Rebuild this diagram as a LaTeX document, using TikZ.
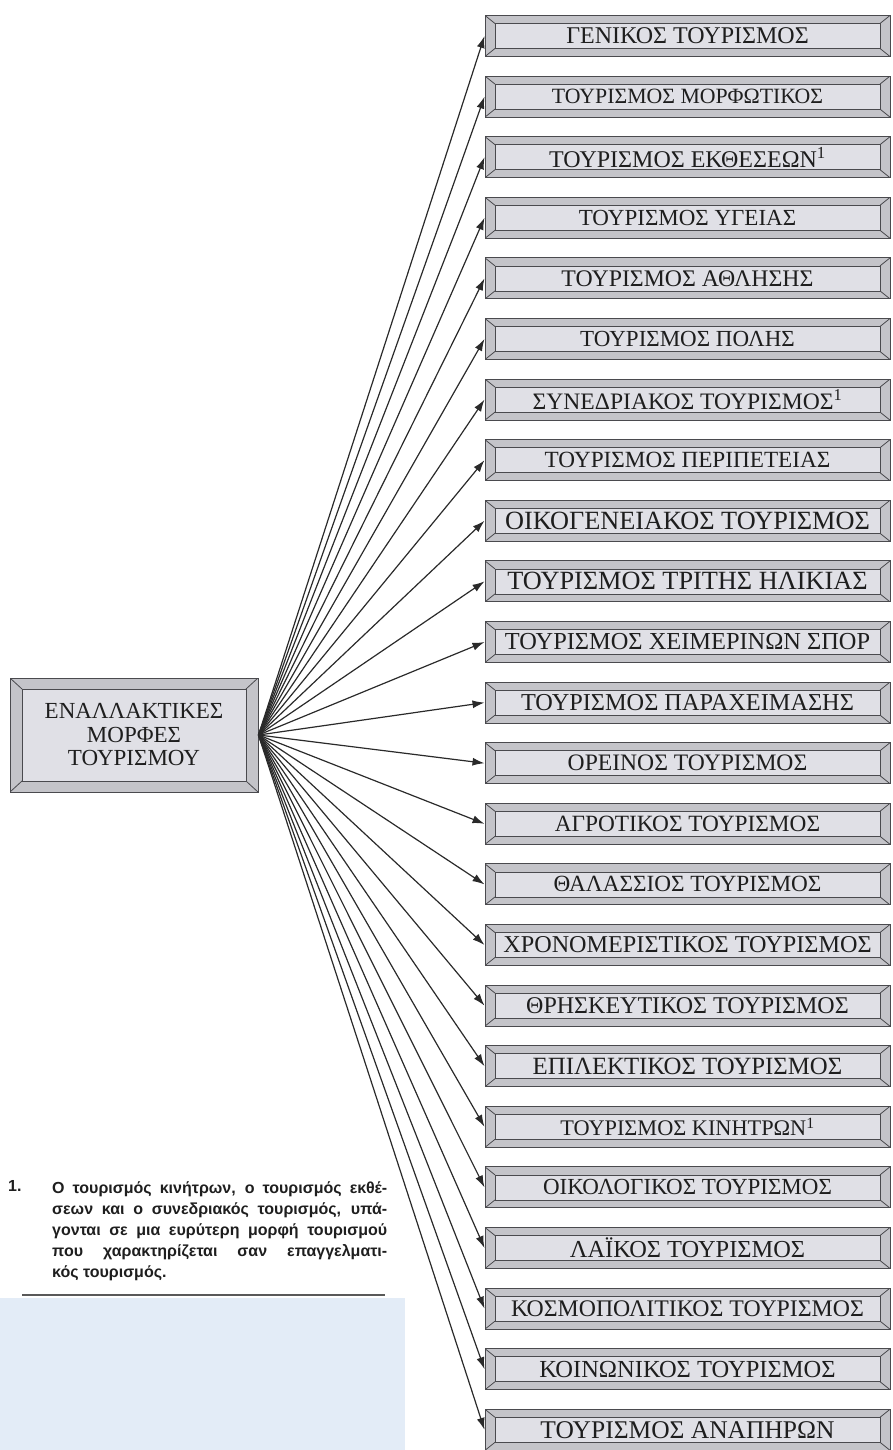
\documentclass[tikz,border=0pt]{standalone}
\usepackage{fontspec}
\setmainfont{Liberation Serif}
\newfontfamily\notefont{Liberation Sans}
\usetikzlibrary{arrows.meta,calc}
\definecolor{edge}{HTML}{4A4A4E}
\definecolor{bandgray}{HTML}{C4C4C9}
\definecolor{innergray}{HTML}{E0E0E6}
\definecolor{inkc}{HTML}{1E1E1E}
\definecolor{paleblue}{HTML}{E3ECF7}
\definecolor{linec}{HTML}{2A2A2A}
\tikzset{
  bevel/.style 2 args={rectangle, draw=edge, line width=1pt, fill=bandgray,
    inner sep=0pt, text=inkc,
    path picture={
      \path (path picture bounding box.south west) coordinate (@sw)
            (path picture bounding box.north east) coordinate (@ne)
            (path picture bounding box.north west) coordinate (@nw)
            (path picture bounding box.south east) coordinate (@se);
      \draw[edge, line width=0.8pt, fill=innergray]
        ($(@sw)+(#1pt,#2pt)$) rectangle ($(@ne)+(-#1pt,-#2pt)$);
      \draw[edge, line width=0.8pt]
        (@sw) -- ($(@sw)+(#1pt,#2pt)$)
        (@ne) -- ($(@ne)+(-#1pt,-#2pt)$)
        (@nw) -- ($(@nw)+(#1pt,-#2pt)$)
        (@se) -- ($(@se)+(-#1pt,#2pt)$);
    }},
  rbox/.style={bevel={10}{8}, minimum width=405pt, minimum height=41pt},
  cbox/.style={bevel={12}{11}, minimum width=248pt, minimum height=114pt,
    align=center, font=\fontsize{23}{23.5}\selectfont},
  fan/.style={draw=linec, line width=1.2pt, -{Latex[length=12pt,width=8pt]}},
  notetext/.style={inner sep=0pt, anchor=north west, align=left, text=inkc,
    font=\notefont\bfseries\fontsize{16}{21}\selectfont},
}
\newcommand\tbox[3]{\node[rbox] (b#1) at (687.5,{36+60.6*(#1-1)}) {\fontsize{#2}{#2}\selectfont #3};}
\begin{document}
\begin{tikzpicture}[x=1pt,y=-1pt]
\useasboundingbox (0,0) rectangle (893,1450);
% lower-left pale block and rule
\fill[paleblue] (0,1298) rectangle (405,1450);
\draw[gray!70!black, line width=1.6pt] (22,1295) -- (385,1295);
% centre box
\node[cbox] (c) at (134,735) {ΕΝΑΛΛΑΚΤΙΚΕΣ\\ΜΟΡΦΕΣ\\ΤΟΥΡΙΣΜΟΥ};
% right boxes
\tbox{1}{24}{ΓΕΝΙΚΟΣ ΤΟΥΡΙΣΜΟΣ}
\tbox{2}{21.8}{ΤΟΥΡΙΣΜΟΣ ΜΟΡΦΩΤΙΚΟΣ}
\tbox{3}{24}{ΤΟΥΡΙΣΜΟΣ ΕΚΘΕΣΕΩΝ\textsuperscript{1}}
\tbox{4}{23}{ΤΟΥΡΙΣΜΟΣ ΥΓΕΙΑΣ}
\tbox{5}{23.8}{ΤΟΥΡΙΣΜΟΣ ΑΘΛΗΣΗΣ}
\tbox{6}{23}{ΤΟΥΡΙΣΜΟΣ ΠΟΛΗΣ}
\tbox{7}{23.6}{ΣΥΝΕΔΡΙΑΚΟΣ ΤΟΥΡΙΣΜΟΣ\textsuperscript{1}}
\tbox{8}{23.2}{ΤΟΥΡΙΣΜΟΣ ΠΕΡΙΠΕΤΕΙΑΣ}
\tbox{9}{26.3}{ΟΙΚΟΓΕΝΕΙΑΚΟΣ ΤΟΥΡΙΣΜΟΣ}
\tbox{10}{26.3}{ΤΟΥΡΙΣΜΟΣ ΤΡΙΤΗΣ ΗΛΙΚΙΑΣ}
\tbox{11}{24.4}{ΤΟΥΡΙΣΜΟΣ ΧΕΙΜΕΡΙΝΩΝ ΣΠΟΡ}
\tbox{12}{24.3}{ΤΟΥΡΙΣΜΟΣ ΠΑΡΑΧΕΙΜΑΣΗΣ}
\tbox{13}{23.6}{ΟΡΕΙΝΟΣ ΤΟΥΡΙΣΜΟΣ}
\tbox{14}{23.3}{ΑΓΡΟΤΙΚΟΣ ΤΟΥΡΙΣΜΟΣ}
\tbox{15}{23.2}{ΘΑΛΑΣΣΙΟΣ ΤΟΥΡΙΣΜΟΣ}
\tbox{16}{24.2}{ΧΡΟΝΟΜΕΡΙΣΤΙΚΟΣ ΤΟΥΡΙΣΜΟΣ}
\tbox{17}{24}{ΘΡΗΣΚΕΥΤΙΚΟΣ ΤΟΥΡΙΣΜΟΣ}
\tbox{18}{24.8}{ΕΠΙΛΕΚΤΙΚΟΣ ΤΟΥΡΙΣΜΟΣ}
\tbox{19}{22.3}{ΤΟΥΡΙΣΜΟΣ ΚΙΝΗΤΡΩΝ\textsuperscript{1}}
\tbox{20}{23}{ΟΙΚΟΛΟΓΙΚΟΣ ΤΟΥΡΙΣΜΟΣ}
\tbox{21}{24.4}{ΛΑΪΚΟΣ ΤΟΥΡΙΣΜΟΣ}
\tbox{22}{23.8}{ΚΟΣΜΟΠΟΛΙΤΙΚΟΣ ΤΟΥΡΙΣΜΟΣ}
\tbox{23}{24.5}{ΚΟΙΝΩΝΙΚΟΣ ΤΟΥΡΙΣΜΟΣ}
\tbox{24}{25.5}{ΤΟΥΡΙΣΜΟΣ ΑΝΑΠΗΡΩΝ}
% fan of arrows
\foreach \i in {1,...,24} \draw[fan] (c.east) -- (b\i.west);
% footnote
\node[notetext] (fnm) at (8,1180) {1.};
\node[notetext] (fn) at (52,1182) {%
\makebox[335pt][s]{Ο τουρισμός κινήτρων, ο τουρισμός εκθέ-}\\
\makebox[335pt][s]{σεων και ο συνεδριακός τουρισμός, υπά-}\\
\makebox[335pt][s]{γονται σε μια ευρύτερη μορφή τουρισμού}\\
\makebox[335pt][s]{που χαρακτηρίζεται σαν επαγγελματι-}\\
κός τουρισμός.};
\end{tikzpicture}
\end{document}
